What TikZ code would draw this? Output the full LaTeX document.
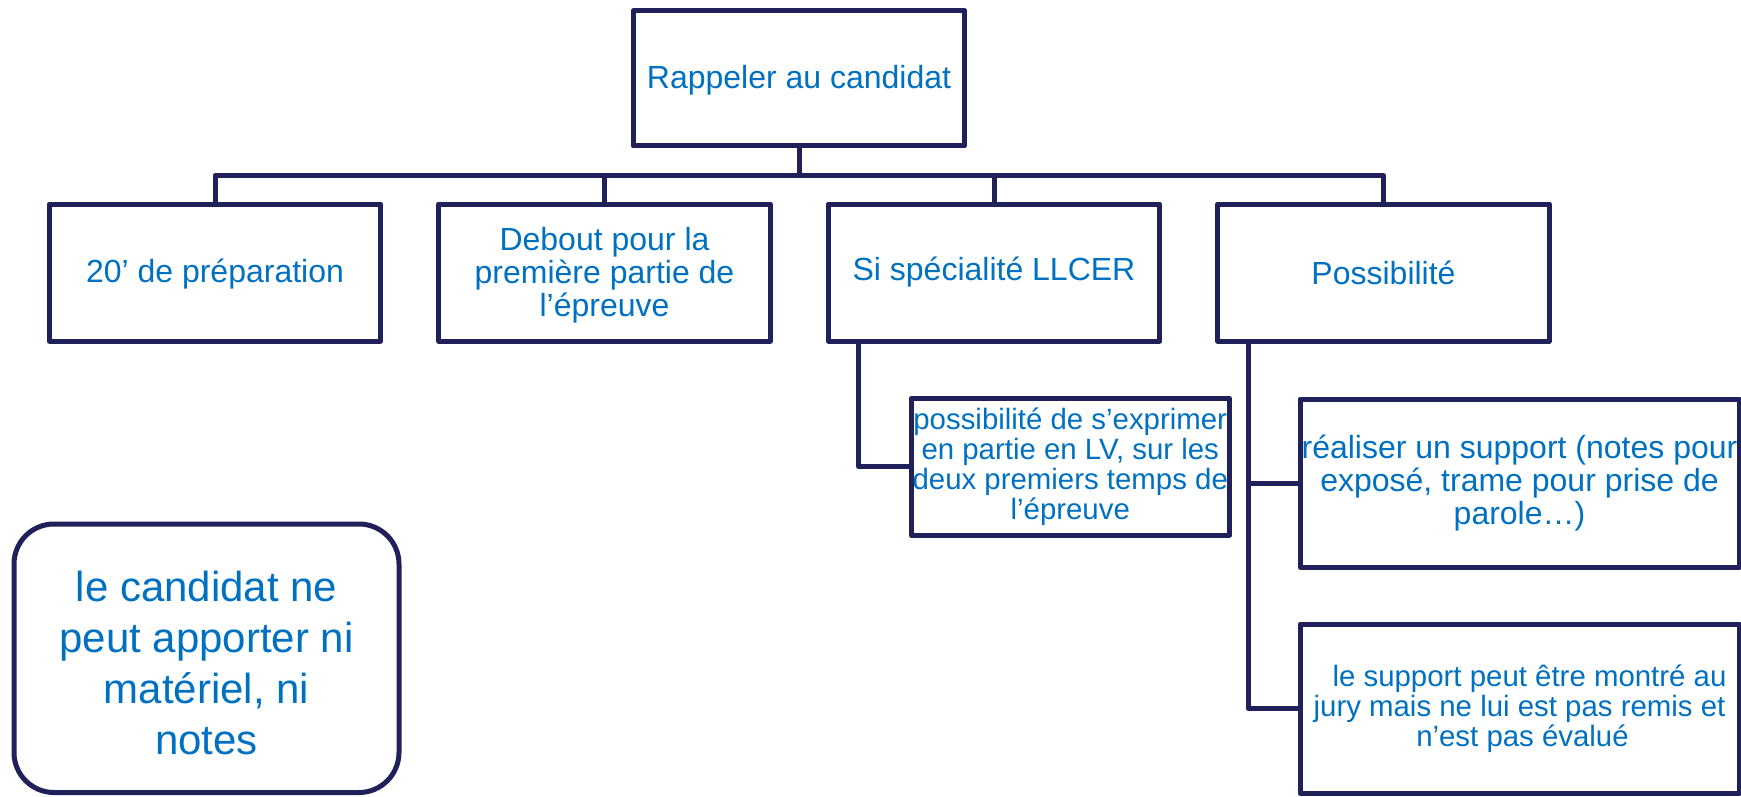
\documentclass[tikz,border=0pt]{standalone}
\usepackage{fontspec}
\setmainfont{Liberation Sans}
\definecolor{navy}{RGB}{32,32,90}
\definecolor{txtblue}{RGB}{0,112,192}
\begin{document}
\begin{tikzpicture}[x=1pt,y=-1pt,
  box/.style={draw=navy, line width=5pt, line join=round, inner sep=0pt, align=center,
    text=txtblue, minimum width=331.5pt, minimum height=137pt,
    font=\fontsize{32}{33}\selectfont},
  smallbox/.style={box, font=\fontsize{29.4}{30}\selectfont},
  link/.style={draw=navy, line width=5pt, line join=round}]
\useasboundingbox (0,0) rectangle (1741,797);
% top
\node[box, minimum height=135.2pt] (top) at (799,78.4) {\rule{0pt}{27pt}Rappeler au candidat};
% level 2
\node[box] (b1) at (215,272.5) {\rule{0pt}{27pt}20’ de préparation};
\node[box] (b2) at (604.5,272.5) {\rule{0pt}{28pt}Debout pour la\\première partie de\\l’épreuve};
\node[box] (b3) at (994,272.5) {Si spécialité LLCER};
\node[box] (b4) at (1383.5,272.5) {Possibilité};
% children
\node[smallbox, minimum width=318.5pt, minimum height=136.5pt] (c1) at (1070.25,466.75)
  {possibilité de s’exprimer\\en partie en LV, sur les\\deux premiers temps de\\l’épreuve};
\node[box, minimum width=439pt, minimum height=168pt] (c2) at (1519.5,483)
  {réaliser un support (notes pour\\exposé, trame pour prise de\\parole…)};
\node[smallbox, minimum width=439pt, minimum height=169pt] (c3) at (1519.5,708.5)
  {\hspace*{14pt}le support peut être montré au\hspace*{-6pt}\\jury mais ne lui est pas remis et\hspace*{-6pt}\\n’est pas évalué\hspace*{-6pt}};
% note
\node[box, rounded corners=40pt, minimum width=385pt, minimum height=268.5pt,
  font=\fontsize{42}{51}\selectfont] (note) at (206.5,658.25)
  {\rule{0pt}{40pt}le candidat ne\\peut apporter ni\\matériel, ni\\notes};
% connectors
\coordinate (bus) at (799,175.5);
\draw[link] (top.south) -- (bus);
\draw[link] (b1.north) |- (bus);
\draw[link] (b2.north) |- (bus);
\draw[link] (b3.north) |- (bus);
\draw[link] (b4.north) |- (bus);
\draw[link] ([xshift=33pt]b3.south west) |- (c1.west);
\draw[link] ([xshift=33pt]b4.south west) |- (c2.west);
\draw[link] ([xshift=33pt]b4.south west) |- (c3.west);
\end{tikzpicture}
\end{document}
